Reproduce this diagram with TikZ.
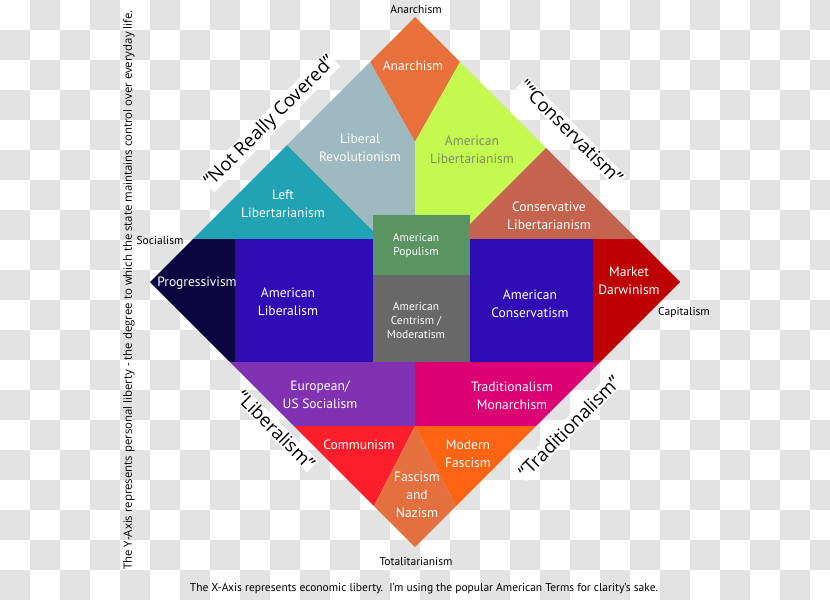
\documentclass[tikz,border=0pt]{standalone}
\usepackage{fontspec}
\setmainfont{PT Sans}
\newfontfamily\sidefont{Open Sans}
\definecolor{checkgrey}{HTML}{E3E3E3}
\definecolor{anarchy}{HTML}{E8713B}
\definecolor{librev}{HTML}{9EB9C0}
\definecolor{leftlib}{HTML}{22A3B4}
\definecolor{amlib}{HTML}{C4FA50}
\definecolor{amlibtext}{HTML}{7E8C66}
\definecolor{conslib}{HTML}{C4644F}
\definecolor{populism}{HTML}{5A9462}
\definecolor{centrism}{HTML}{686868}
\definecolor{progress}{HTML}{0C0640}
\definecolor{amblue}{HTML}{2E0EB4}
\definecolor{market}{HTML}{BC0004}
\definecolor{eursoc}{HTML}{8132B2}
\definecolor{tradmon}{HTML}{DB0073}
\definecolor{commun}{HTML}{FD1E2C}
\definecolor{modfasc}{HTML}{FE6411}
\definecolor{nazism}{HTML}{E4703F}

\begin{document}
\begin{tikzpicture}[x=1pt,y=-1pt,
  region/.style={text=white,align=center,font=\fontsize{13.5}{18}\selectfont},
  smallregion/.style={text=white,align=center,font=\fontsize{11.5}{14}\selectfont},
  side/.style={fill=white,inner sep=1pt,font=\sidefont\fontsize{18.5}{20}\selectfont},
  pole/.style={font=\fontsize{11.5}{13}\selectfont}]
\useasboundingbox (0,0) rectangle (830,600);
\fill[white] (0,0) rectangle (830,600);
\begin{scope}
\clip (0,0) rectangle (830,600);
\foreach \j in {0,...,19}
  \foreach \i in {0,...,13}
    \fill[checkgrey] ({60*\i+30*(1-mod(\j,2))},{30*\j}) rectangle +(30,30);
\end{scope}

\node[side,rotate=45] (notcovered) at (270,122) {“Not Really Covered”};
\node[side,rotate=-45] (conservatism) at (571,132) {"“Conservatism”};
\node[side,rotate=-45] (liberalism) at (276,430) {“Liberalism”};
\node[side,rotate=45] (traditionalism) at (569,427) {“Traditionalism”};

\fill[anarchy] (415,17) -- (370,62) -- (415,142) -- (460,62) -- cycle;
\fill[librev] (370,62) -- (415,142) -- (415,239) -- (381,239) -- (287,145) -- cycle;
\fill[leftlib] (287,145) -- (381,239) -- (193,239) -- cycle;
\fill[amlib] (460,62) -- (546,148) -- (455,239) -- (415,239) -- (415,142) -- cycle;
\fill[conslib] (546,148) -- (637,239) -- (455,239) -- cycle;
\fill[progress] (193,239) -- (235,239) -- (235,362) -- (230,362) -- (150,282) -- cycle;
\fill[amblue] (235,239) rectangle (373,362);
\fill[amblue] (470,239) rectangle (593,362);
\fill[market] (593,239) -- (637,239) -- (680,282) -- (600,362) -- (593,362) -- cycle;
\fill[populism] (373,215) rectangle (470,275);
\fill[centrism] (373,275) rectangle (470,362);
\fill[eursoc] (230,362) -- (415,362) -- (415,426) -- (294,426) -- cycle;
\fill[tradmon] (415,362) -- (600,362) -- (536,426) -- (415,426) -- cycle;
\fill[commun] (294,426) -- (415,426) -- (374,506) -- cycle;
\fill[modfasc] (415,426) -- (536,426) -- (456,506) -- cycle;
\fill[nazism] (415,426) -- (456,506) -- (415,547) -- (374,506) -- cycle;

\node[region] (anarchism) at (413,66) {Anarchism};
\node[region] (revolution) at (360,148) {Liberal\\Revolutionism};
\node[region,text=amlibtext] (amlibertarian) at (472,150) {American\\Libertarianism};
\node[region] (leftlibertarian) at (283,204) {Left\\Libertarianism};
\node[region] (conslibertarian) at (549,216) {Conservative\\Libertarianism};
\node[smallregion] (populist) at (416,246) {American\\Populism};
\node[smallregion] (centrist) at (416,320) {American\\Centrism /\\Moderatism};
\node[region] (progressive) at (197,283) {Progressivism};
\node[region] (amliberal) at (288,302) {American\\Liberalism};
\node[region] (amconservative) at (530,304) {American\\Conservatism};
\node[region] (darwinism) at (629,281) {Market\\Darwinism};
\node[region] (eursocialism) at (320,395) {European/\\US Socialism};
\node[region] (monarchism) at (512,396) {Traditionalism\\Monarchism};
\node[region] (communism) at (359,445) {Communism};
\node[region] (fascism) at (468,454) {Modern\\Fascism};
\node[region] (nazi) at (417,495) {Fascism\\and\\Nazism};

\node[pole] (top) at (416,9) {Anarchism};
\node[pole] (left) at (160,240) {Socialism};
\node[pole] (right) at (684,313) {Capitalism};
\node[pole] (bottom) at (416,561) {Totalitarianism};
\node[pole] (xaxis) at (424,589) {The X-Axis represents economic liberty.\ \ I’m using the popular American Terms for clarity’s sake.};
\node[rotate=90,font=\sidefont\fontsize{11.4}{13}\selectfont] (yaxis) at (129,290) {The Y-Axis represents personal liberty - the degree to which the state maintains control over everyday life.};
\end{tikzpicture}
\end{document}
